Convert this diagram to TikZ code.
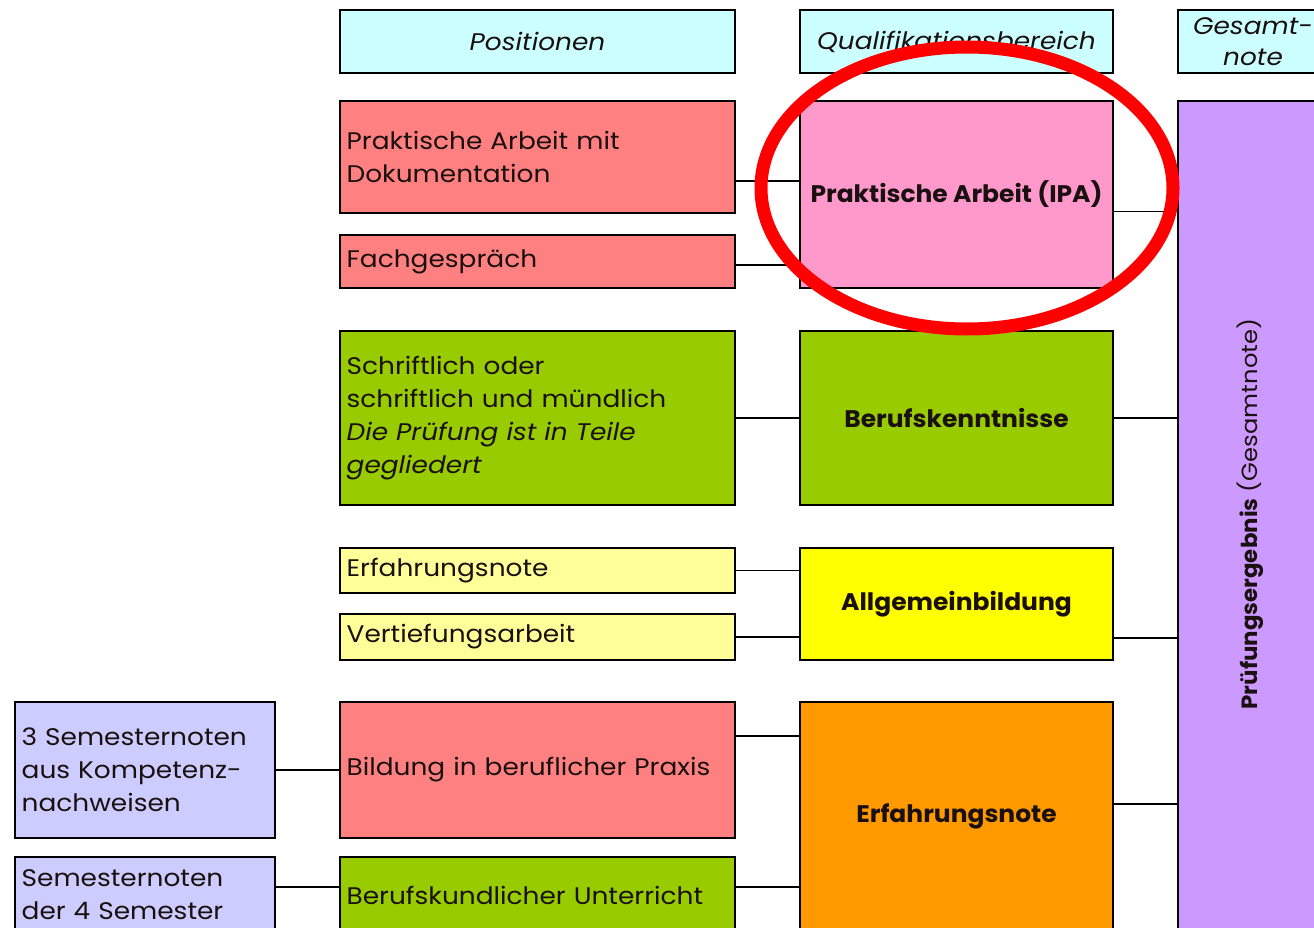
\documentclass[tikz,border=0pt]{standalone}
\usepackage{fontspec}
\setmainfont{Poppins}[FakeStretch=1.1, BoldFeatures={FakeStretch=1.04}]
\usetikzlibrary{calc}
\definecolor{hdr}{HTML}{CCFFFF}
\definecolor{salmon}{HTML}{FF8080}
\definecolor{pinkq}{HTML}{FF99CC}
\definecolor{greenq}{HTML}{99CC00}
\definecolor{lyellow}{HTML}{FFFF99}
\definecolor{yellowq}{HTML}{FFFF00}
\definecolor{lav}{HTML}{CCCCFF}
\definecolor{orangeq}{HTML}{FF9900}
\definecolor{purpleq}{HTML}{CC99FF}
\definecolor{ringred}{HTML}{FF0000}
\definecolor{txt}{HTML}{1A1010}
\tikzset{
  box/.style={draw=black, line width=1.6pt, anchor=north west, outer sep=0pt,
    inner ysep=0pt, text=txt, font=\fontsize{18}{24.75}\selectfont},
  lbox/.style={box, align=left, inner xsep=5pt, text width=#1},
  cbox/.style={box, align=center, inner xsep=0pt, minimum width=#1},
  bbox/.style={cbox=#1, font=\fontsize{18}{24.75}\selectfont\bfseries},
  hbox/.style={box, align=center, inner xsep=0pt, minimum width=#1, minimum height=47.25pt,
    font=\fontsize{18}{23.25}\selectfont\itshape},
  link/.style={draw=black, line width=0.9pt}
}
\begin{document}
\begin{tikzpicture}[x=0.75pt,y=-0.75pt]
\useasboundingbox (0,0) rectangle (1314,928);
\clip (0,0) rectangle (1314,928);
% headers
\node[hbox=296.25pt, fill=hdr] (hpos) at (340,10) {Positionen};
\node[hbox=234.75pt, fill=hdr] (hqual) at (800,10) {Qualifikationsbereich};
\node[hbox=112.5pt, fill=hdr, text width=102pt] (hges) at (1178,10) {Gesamt-\\note};
% left column
\node[lbox=286.25pt, fill=salmon, minimum height=84pt] (pamd) at (340,101) {Praktische Arbeit mit\\Dokumentation};
\node[lbox=286.25pt, fill=salmon, minimum height=39.75pt] (fach) at (340,235) {Fachgespräch};
\node[lbox=286.25pt, fill=greenq, minimum height=130.5pt] (schrift) at (340,331) {Schriftlich oder\\schriftlich und mündlich\\\textit{Die Prüfung ist in Teile}\\\textit{gegliedert}};
\node[lbox=286.25pt, fill=lyellow, minimum height=33.75pt] (erf) at (340,548) {Erfahrungsnote};
\node[lbox=286.25pt, fill=lyellow, minimum height=34.5pt] (vert) at (340,614) {Vertiefungsarbeit};
\node[lbox=286.25pt, fill=salmon, minimum height=102pt] (bild) at (340,702) {Bildung in beruflicher Praxis};
\node[lbox=286.25pt, fill=greenq, minimum height=57pt] (bku) at (340,857) {Berufskundlicher Unterricht};
% far left
\node[lbox=185pt, fill=lav, minimum height=102pt] (sem3) at (15,702) {3 Semesternoten\\aus Kompetenz-\\nachweisen};
\node[lbox=185pt, fill=lav, minimum height=57pt] (sem4) at (15,857) {Semesternoten\\der 4 Semester};
% middle column
\node[bbox=234.75pt, fill=pinkq, minimum height=140.25pt] (ipa) at (800,101) {Praktische Arbeit (IPA)};
\node[bbox=234.75pt, fill=greenq, minimum height=130.5pt] (bk) at (800,331) {Berufskenntnisse};
\node[bbox=234.75pt, fill=yellowq, minimum height=84pt] (allg) at (800,548) {Allgemeinbildung};
\node[bbox=234.75pt, fill=orangeq, minimum height=171pt] (ornote) at (800,702) {Erfahrungsnote};
% right column
\node[cbox=112.5pt, fill=purpleq, minimum height=621pt] (pr) at (1178,101) {};
\node[rotate=90, text=txt, font=\fontsize{16.5}{24.75}\selectfont, inner sep=0pt] (prtext) at (1250,514) {\textbf{Prüfungsergebnis} (Gesamtnote)};
% connectors
\draw[link] ([yshift=-18pt]pamd.east) -- ([yshift=-18pt]pamd.east -| ipa.west);
\draw[link] ([yshift=-2.6pt]fach.east) -- ([yshift=-2.6pt]fach.east -| ipa.west);
\draw[link] ([yshift=-13pt]ipa.east) -- ([yshift=-13pt]ipa.east -| pr.west);
\draw[link] (schrift.east) -- (schrift.east -| bk.west);
\draw[link] (bk.east) -- (bk.east -| pr.west);
\draw[link] (erf.east) -- (erf.east -| allg.west);
\draw[link] (vert.east) -- (vert.east -| allg.west);
\draw[link] ([yshift=-25.5pt]allg.east) -- ([yshift=-25.5pt]allg.east -| pr.west);
\draw[link] ([yshift=25.5pt]bild.east) -- ([yshift=25.5pt]bild.east -| ornote.west);
\draw[link] (sem3.east) -- (sem3.east -| bild.west);
\draw[link] ([yshift=6pt]sem4.east) -- ([yshift=6pt]sem4.east -| bku.west);
\draw[link] ([yshift=6pt]bku.east) -- ([yshift=6pt]bku.east -| ornote.west);
\draw[link] ([yshift=9pt]ornote.east) -- ([yshift=9pt]ornote.east -| pr.west);
% red ring
\draw[ringred, line width=9.75pt] (967,188) ellipse [x radius=206, y radius=141];
\end{tikzpicture}
\end{document}
